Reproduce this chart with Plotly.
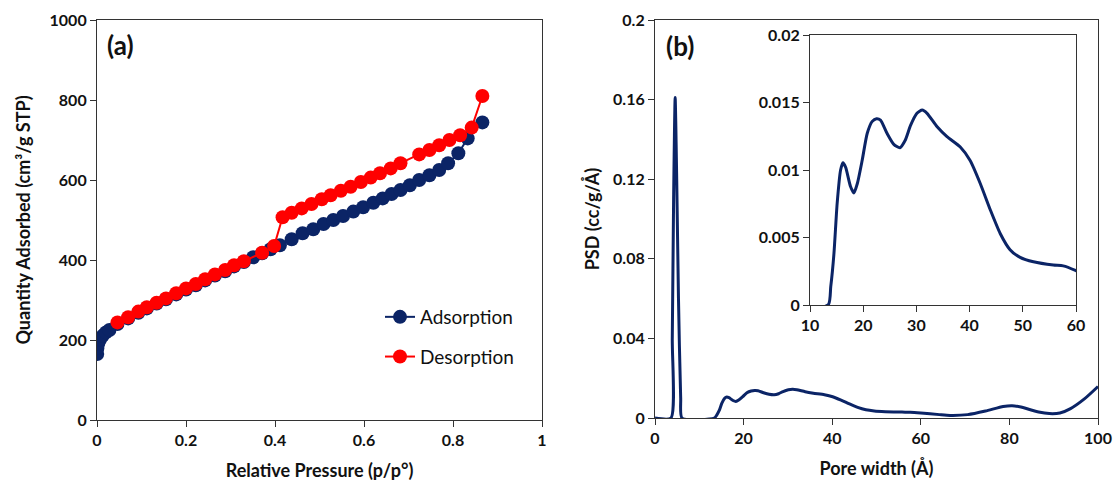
import plotly.graph_objects as go

# ---------------- data ----------------
ads_p = [0.0005, 0.001, 0.003, 0.007, 0.013, 0.02, 0.028,
         0.046, 0.07, 0.093, 0.112, 0.134, 0.155, 0.178, 0.2, 0.222, 0.243,
         0.265, 0.288, 0.308, 0.33, 0.351, 0.371, 0.39,
         0.411, 0.4375, 0.462, 0.486, 0.509, 0.531, 0.553, 0.576, 0.598,
         0.621, 0.642, 0.662, 0.682, 0.703, 0.724, 0.747, 0.769, 0.789,
         0.812, 0.833, 0.866]
ads_q = [165, 180, 192, 202, 211, 219, 225,
         240, 254, 268, 279, 291, 302, 314, 326, 337, 349,
         361, 372, 384, 395, 407, 417, 427,
         437, 452, 467, 477, 490, 500, 510, 521, 532,
         543, 554, 565, 575, 587, 600, 612, 625, 642,
         667, 704, 744]

des_p = [0.046, 0.07, 0.093, 0.112, 0.134, 0.155, 0.178, 0.2, 0.222, 0.243,
         0.265, 0.288, 0.308, 0.33, 0.371, 0.398, 0.417, 0.4375, 0.46, 0.482,
         0.505, 0.525, 0.548, 0.57, 0.593, 0.615, 0.636, 0.66, 0.682, 0.724,
         0.747, 0.769, 0.792, 0.816, 0.842, 0.866]
des_q = [244, 257, 271, 282, 293, 304, 317, 329, 340, 352,
         364, 375, 387, 397, 418, 435, 507, 518, 529, 540,
         552, 562, 573, 583, 595, 606, 617, 629, 642, 664,
         675, 687, 700, 712, 731, 810]

pore_w = [0, 3.6, 3.9, 4.2, 4.55, 4.9, 5.3, 5.8, 6.1, 13.4, 13.9, 14.5, 15.1,
          15.75, 16.2, 16.7, 17.6, 18.25, 18.9, 19.8, 20.75, 21.7, 22.5, 23.25,
          24.5, 25.75, 26.9, 27.9, 28.9, 30.1, 31.1, 32, 33.9, 35.75, 38.25,
          40.1, 42, 43.9, 45.75, 47.6, 49.5, 52, 55.75, 57.6, 60, 64.2, 66.6,
          70.6, 74.6, 78.6, 80.6, 82.6, 86.6, 89, 91.4, 93.8, 97, 100]
psd = [0, 0, 0.04, 0.11, 0.161, 0.12, 0.06, 0.01, 0, 0, 0.00136, 0.0038,
       0.0075, 0.01, 0.01054, 0.0102, 0.0088, 0.0083, 0.009, 0.0107, 0.0127,
       0.0136, 0.0138, 0.0137, 0.0127, 0.0119, 0.01165, 0.0122, 0.0133,
       0.0142, 0.01444, 0.0142, 0.0132, 0.01247, 0.0117, 0.0107, 0.009,
       0.00704, 0.0053, 0.0041, 0.00353, 0.0032, 0.00296, 0.0029, 0.00254,
       0.0017, 0.0013, 0.0017, 0.0035, 0.0058, 0.0062, 0.0055, 0.003, 0.0022,
       0.0025, 0.0047, 0.0097, 0.0158]

ticks_a_x = [0, 0.2, 0.4, 0.6, 0.8, 1]
ticks_a_y = [0, 200, 400, 600, 800, 1000]
ticks_b_x = [0, 20, 40, 60, 80, 100]
ticks_b_y = [0, 0.04, 0.08, 0.12, 0.16, 0.2]
ticks_in_x = [10, 20, 30, 40, 50, 60]
ticks_in_y = [0, 0.005, 0.01, 0.015, 0.02]

NAVY = "#0b2466"
RED = "#ff0000"
FONT = "Lato"
W, H = 1118, 488

fig = go.Figure()
fig.add_trace(go.Scatter(x=ads_p, y=ads_q, mode="lines+markers", name="Adsorption",
                         line=dict(color=NAVY, width=2), marker=dict(color=NAVY, size=14),
                         legendgroup="a", xaxis="x", yaxis="y"))
fig.add_trace(go.Scatter(x=des_p, y=des_q, mode="lines+markers", name="Desorption",
                         line=dict(color=RED, width=2), marker=dict(color=RED, size=14),
                         legendgroup="d", xaxis="x", yaxis="y"))
fig.add_trace(go.Scatter(x=pore_w, y=psd, mode="lines",
                         line=dict(color=NAVY, width=3, shape="spline", smoothing=0.6),
                         showlegend=False, xaxis="x2", yaxis="y2"))
fig.add_trace(go.Scatter(x=pore_w, y=psd, mode="lines",
                         line=dict(color=NAVY, width=3, shape="spline", smoothing=0.6),
                         showlegend=False, xaxis="x3", yaxis="y3"))


def px_x(a, b):
    return [a / W, b / W]


def px_y(top, bottom):
    return [(H - bottom) / H, (H - top) / H]


tickfont = dict(family=FONT, size=16, color="#111", weight="bold")
titlefont = dict(family=FONT, size=18, color="#111", weight="bold")


def axis(dom, anchor, rng, tickvals, title=None, standoff=None):
    d = dict(domain=dom, anchor=anchor, range=rng, tickmode="array", tickvals=tickvals,
             ticktext=[str(v) for v in tickvals],
             showline=True, linecolor="#333", linewidth=1.2, mirror=True,
             ticks="outside", ticklen=6, tickcolor="#333", tickwidth=1.2,
             showgrid=False, zeroline=False, tickfont=tickfont, fixedrange=True,
             automargin=False)
    if title:
        d["title"] = dict(text=title, font=titlefont, standoff=standoff)
    return d


fig.update_layout(
    width=W, height=H, margin=dict(l=0, r=0, t=0, b=0),
    paper_bgcolor="white", plot_bgcolor="white",
    xaxis=axis(px_x(97, 542), "y", [0, 1], ticks_a_x, "Relative Pressure (p/p°)", 16),
    yaxis=axis(px_y(20, 420), "x", [0, 1000], ticks_a_y, "Quantity Adsorbed (cm³/g STP)", 14),
    xaxis2=axis(px_x(655, 1098), "y2", [0, 100], ticks_b_x, "Pore width (Å)", 16),
    yaxis2=axis(px_y(20, 418), "x2", [0, 0.2], ticks_b_y, "PSD (cc/g/Å)", 8),
    xaxis3=axis(px_x(810, 1076), "y3", [10, 60], ticks_in_x),
    yaxis3=axis(px_y(35, 305), "x3", [0, 0.02], ticks_in_y),
    showlegend=True,
    legend=dict(x=380 / W, y=(H - 298) / H, xanchor="left", yanchor="top",
                font=dict(family=FONT, size=19, color="#111"), bgcolor="rgba(0,0,0,0)",
                traceorder="grouped", tracegroupgap=12, itemwidth=30),
    annotations=[
        dict(text="(a)", x=0.018, y=937, xref="x", yref="y", xanchor="left", yanchor="middle",
             showarrow=False, font=dict(family=FONT, size=26, color="#111", weight="bold")),
        dict(text="(b)", x=2.0, y=0.187, xref="x2", yref="y2", xanchor="left", yanchor="middle",
             showarrow=False, font=dict(family=FONT, size=26, color="#111", weight="bold")),
    ],
)

fig.write_html("out.html")
